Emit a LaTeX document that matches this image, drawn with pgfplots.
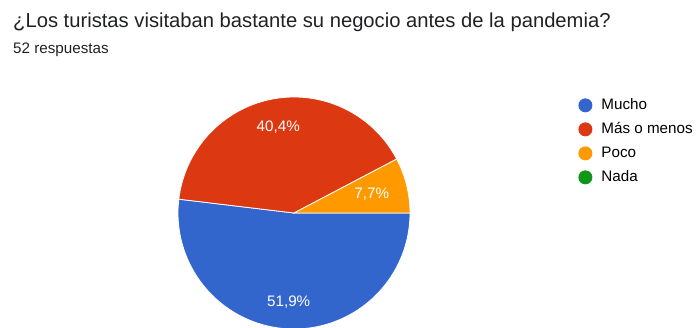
\documentclass[border=0pt]{standalone}
\usepackage{pgfplots}
\usepackage{pgfplotstable}
\pgfplotsset{compat=1.18}
\usepackage{fontspec}
\setmainfont{Liberation Sans}
\definecolor{gblue}{HTML}{3366CC}
\definecolor{gred}{HTML}{DC3912}
\definecolor{gorange}{HTML}{FF9900}
\definecolor{ggreen}{HTML}{109618}
\definecolor{gtext}{HTML}{202124}
\pgfplotstableread{
label value
Mucho 51.9
Mas 40.4
Poco 7.7
Nada 0
}\piedata
\begin{document}
\begin{tikzpicture}[x=1bp,y=1bp]
\useasboundingbox (0,0) rectangle (697,327);
\pgfplotstablegetelem{0}{value}\of\piedata \let\vA\pgfplotsretval
\pgfplotstablegetelem{1}{value}\of\piedata \let\vB\pgfplotsretval
\pgfplotstablegetelem{2}{value}\of\piedata \let\vC\pgfplotsretval
\pgfmathsetmacro\aA{-3.6*\vA}
\pgfmathsetmacro\aB{\aA-3.6*\vB}
\pgfmathsetmacro\aC{\aB-3.6*\vC}
\pgfmathsetmacro\mA{\aA/2}
\pgfmathsetmacro\mB{(\aA+\aB)/2}
\pgfmathsetmacro\mC{(\aB+\aC)/2}
\node[anchor=base west, inner sep=0pt, text=gtext, font=\fontsize{20.2bp}{23bp}\selectfont] at (13,300) {¿Los turistas visitaban bastante su negocio antes de la pandemia?};
\node[anchor=base west, inner sep=0pt, text=gtext, font=\fontsize{15.2bp}{18bp}\selectfont] at (13,274) {52 respuestas};
\begin{scope}
\clip (0,0) rectangle (697,327);
\begin{axis}[
  at={(178bp,-2bp)}, anchor=south west,
  scale only axis, width=232bp, height=232bp,
  xmin=-1, xmax=1, ymin=-1, ymax=1,
  hide axis, clip=false,
  legend image code/.code={\fill[#1, draw=none] (7bp,0bp) circle (7bp); \path[draw=none, fill=none] (0bp,0bp) -- (23bp,0bp);},
  legend cell align=left,
  legend style={draw=none, fill=none, at={(axis cs:2.45,0.99)}, anchor=north west,
    font=\fontsize{15.2bp}{18bp}\selectfont, row sep=10bp, inner sep=0pt,
    nodes={inner sep=0pt, text height=11bp, text depth=3bp}},
]
\addplot[fill=gblue, draw=white, line width=0.8bp, domain=\aA:0, samples=120] ({cos(x)},{sin(x)}) -- (axis cs:0,0) -- cycle;
\addlegendentry{Mucho}
\addplot[fill=gred, draw=white, line width=0.8bp, domain=\aB:\aA, samples=100] ({cos(x)},{sin(x)}) -- (axis cs:0,0) -- cycle;
\addlegendentry{Más o menos}
\addplot[fill=gorange, draw=white, line width=0.8bp, domain=\aC:\aB, samples=30] ({cos(x)},{sin(x)}) -- (axis cs:0,0) -- cycle;
\addlegendentry{Poco}
\addlegendimage{fill=ggreen}
\addlegendentry{Nada}
\node[text=white, font=\fontsize{15.2bp}{18bp}\selectfont] at (axis cs:{0.77*cos(\mA)},{0.77*sin(\mA)}) {51,9\%};
\node[text=white, font=\fontsize{15.2bp}{18bp}\selectfont] at (axis cs:{0.75*cos(\mB)},{0.75*sin(\mB)}) {40,4\%};
\node[text=white, font=\fontsize{15.2bp}{18bp}\selectfont] at (axis cs:{0.69*cos(\mC)},{0.69*sin(\mC)}) {7,7\%};
\end{axis}
\end{scope}
\end{tikzpicture}
\end{document}
